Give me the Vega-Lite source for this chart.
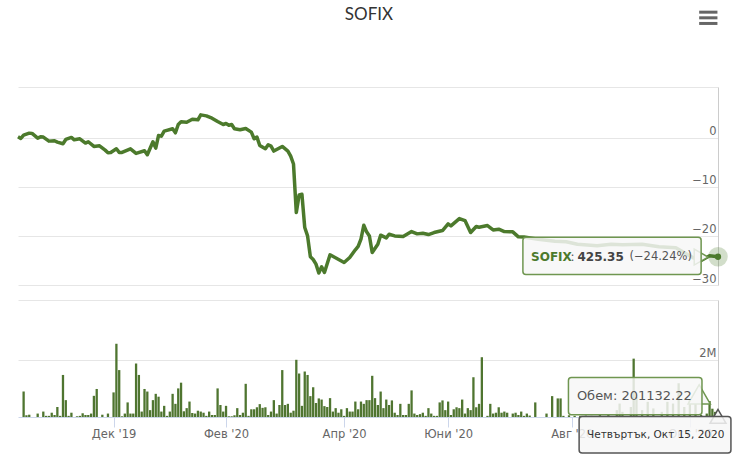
{
  "$schema": "https://vega.github.io/schema/vega-lite/v6.json",
  "title": {"text": "SOFIX", "font": "Lato", "fontSize": 17, "fontWeight": "normal", "color": "#333333", "anchor": "middle", "offset": -13, "dx": -5},
  "padding": {"left": 16, "top": 5, "right": 0, "bottom": 0},
  "background": "#ffffff",
  "spacing": 15,
  "bounds": "flush",
  "config": {
    "view": {"stroke": null},
    "font": "DejaVu Sans",
    "axis": {"labelFont": "DejaVu Sans", "labelColor": "#666666", "labelFontSize": 11.5, "title": null}
  },
  "datasets": {
    "index": [
      {"n":0,"change":0.2},{"n":1,"change":-0.14},{"n":2,"change":0.54},{"n":4,"change":0.95},{"n":5,"change":0.88},{"n":7,"change":-0.07},{"n":8,"change":0.2},{"n":9,"change":0.14},{"n":11,"change":-0.68},{"n":13,"change":-0.61},{"n":14,"change":-0.88},{"n":16,"change":-1.22},{"n":17,"change":-0.34},{"n":19,"change":0.07},{"n":20,"change":-0.41},{"n":22,"change":-0.2},{"n":24,"change":-1.08},{"n":25,"change":-0.81},{"n":27,"change":-1.76},{"n":29,"change":-1.63},{"n":31,"change":-2.51},{"n":32,"change":-3.05},{"n":33,"change":-2.98},{"n":35,"change":-2.24},{"n":36,"change":-2.98},{"n":37,"change":-2.98},{"n":40,"change":-2.24},{"n":42,"change":-3.18},{"n":45,"change":-2.64},{"n":46,"change":-3.46},{"n":48,"change":-0.81},{"n":49,"change":-2.1},{"n":50,"change":0.47},{"n":51,"change":0.34},{"n":52,"change":1.36},{"n":55,"change":1.83},{"n":56,"change":1.02},{"n":57,"change":2.71},{"n":58,"change":3.25},{"n":60,"change":3.18},{"n":62,"change":3.79},{"n":64,"change":3.66},{"n":65,"change":4.67},{"n":67,"change":4.47},{"n":69,"change":4.0},{"n":71,"change":3.32},{"n":73,"change":2.71},{"n":74,"change":2.91},{"n":75,"change":2.57},{"n":76,"change":2.71},{"n":77,"change":1.83},{"n":79,"change":1.63},{"n":81,"change":1.9},{"n":83,"change":1.15},{"n":84,"change":-0.2},{"n":85,"change":0.14},{"n":86,"change":-1.56},{"n":88,"change":-2.24},{"n":89,"change":-1.42},{"n":90,"change":-1.69},{"n":91,"change":-2.71},{"n":94,"change":-1.76},{"n":96,"change":-2.71},{"n":97,"change":-3.73},{"n":98,"change":-5.35},{"n":99,"change":-15.24},{"n":100,"change":-11.65},{"n":101,"change":-11.52},{"n":102,"change":-18.29},{"n":103,"change":-19.99},{"n":104,"change":-24.25},{"n":105,"change":-24.8},{"n":106,"change":-25.75},{"n":107,"change":-27.57},{"n":108,"change":-26.29},{"n":109,"change":-27.44},{"n":111,"change":-23.85},{"n":116,"change":-25.41},{"n":118,"change":-24.39},{"n":120,"change":-22.83},{"n":121,"change":-22.15},{"n":122,"change":-20.66},{"n":123,"change":-17.82},{"n":124,"change":-19.17},{"n":125,"change":-20},{"n":126,"change":-23.37},{"n":128,"change":-21.68},{"n":129,"change":-19.85},{"n":131,"change":-20.39},{"n":132,"change":-19.65},{"n":134,"change":-19.99},{"n":137,"change":-20.12},{"n":140,"change":-19.11},{"n":142,"change":-19.58},{"n":144,"change":-19.44},{"n":146,"change":-19.72},{"n":148,"change":-19.31},{"n":151,"change":-18.9},{"n":153,"change":-17.55},{"n":154,"change":-17.95},{"n":157,"change":-16.46},{"n":159,"change":-16.87},{"n":161,"change":-19.31},{"n":163,"change":-18.09},{"n":164,"change":-18.22},{"n":167,"change":-17.89},{"n":169,"change":-18.77},{"n":171,"change":-18.63},{"n":173,"change":-19.11},{"n":176,"change":-19.17},{"n":178,"change":-20.19},{"n":180,"change":-20.2},{"n":185,"change":-20.67},{"n":191,"change":-21.1},{"n":195,"change":-21.2},{"n":199,"change":-21.7},{"n":206,"change":-22},{"n":211,"change":-21.7},{"n":215,"change":-21.8},{"n":222,"change":-21.7},{"n":228,"change":-22.2},{"n":234,"change":-22.4},{"n":240,"change":-24.4},{"n":243,"change":-25},{"n":246,"change":-24.05},{"n":249,"change":-24.24}
    ],
    "volume": [
      {"n":2,"volume":890000},{"n":3,"volume":60000},{"n":4,"volume":80000},{"n":7,"volume":120000},{"n":9,"volume":190000},{"n":10,"volume":40000},{"n":11,"volume":40000},{"n":12,"volume":150000},{"n":13,"volume":70000},{"n":14,"volume":350000},{"n":15,"volume":40000},{"n":16,"volume":1470000},{"n":17,"volume":590000},{"n":18,"volume":40000},{"n":19,"volume":150000},{"n":21,"volume":25000},{"n":22,"volume":40000},{"n":23,"volume":130000},{"n":24,"volume":70000},{"n":25,"volume":70000},{"n":26,"volume":120000},{"n":27,"volume":740000},{"n":28,"volume":980000},{"n":30,"volume":80000},{"n":32,"volume":120000},{"n":34,"volume":860000},{"n":35,"volume":2560000},{"n":36,"volume":1640000},{"n":37,"volume":25000},{"n":38,"volume":120000},{"n":39,"volume":510000},{"n":40,"volume":120000},{"n":41,"volume":120000},{"n":42,"volume":1870000},{"n":43,"volume":1470000},{"n":44,"volume":190000},{"n":45,"volume":980000},{"n":46,"volume":890000},{"n":47,"volume":240000},{"n":48,"volume":590000},{"n":49,"volume":810000},{"n":50,"volume":710000},{"n":51,"volume":190000},{"n":52,"volume":390000},{"n":53,"volume":40000},{"n":54,"volume":190000},{"n":55,"volume":810000},{"n":56,"volume":460000},{"n":57,"volume":1000000},{"n":58,"volume":1200000},{"n":59,"volume":200000},{"n":60,"volume":310000},{"n":61,"volume":540000},{"n":62,"volume":140000},{"n":63,"volume":120000},{"n":64,"volume":220000},{"n":65,"volume":190000},{"n":66,"volume":150000},{"n":67,"volume":40000},{"n":68,"volume":190000},{"n":69,"volume":70000},{"n":70,"volume":70000},{"n":71,"volume":1000000},{"n":72,"volume":420000},{"n":73,"volume":190000},{"n":74,"volume":390000},{"n":75,"volume":25000},{"n":76,"volume":25000},{"n":77,"volume":60000},{"n":78,"volume":310000},{"n":79,"volume":70000},{"n":80,"volume":150000},{"n":81,"volume":1160000},{"n":82,"volume":40000},{"n":83,"volume":270000},{"n":84,"volume":270000},{"n":85,"volume":340000},{"n":86,"volume":450000},{"n":87,"volume":320000},{"n":88,"volume":340000},{"n":89,"volume":70000},{"n":90,"volume":190000},{"n":91,"volume":590000},{"n":92,"volume":120000},{"n":93,"volume":420000},{"n":94,"volume":1640000},{"n":95,"volume":420000},{"n":96,"volume":460000},{"n":97,"volume":150000},{"n":98,"volume":220000},{"n":99,"volume":2000000},{"n":100,"volume":1520000},{"n":101,"volume":390000},{"n":102,"volume":1590000},{"n":103,"volume":1470000},{"n":104,"volume":730000},{"n":105,"volume":1040000},{"n":106,"volume":490000},{"n":107,"volume":650000},{"n":108,"volume":610000},{"n":109,"volume":380000},{"n":110,"volume":350000},{"n":111,"volume":660000},{"n":112,"volume":190000},{"n":113,"volume":310000},{"n":114,"volume":150000},{"n":115,"volume":270000},{"n":116,"volume":40000},{"n":117,"volume":310000},{"n":118,"volume":190000},{"n":119,"volume":190000},{"n":120,"volume":540000},{"n":121,"volume":270000},{"n":122,"volume":540000},{"n":123,"volume":460000},{"n":124,"volume":590000},{"n":125,"volume":590000},{"n":126,"volume":1440000},{"n":127,"volume":660000},{"n":128,"volume":420000},{"n":129,"volume":890000},{"n":130,"volume":310000},{"n":131,"volume":610000},{"n":132,"volume":420000},{"n":133,"volume":580000},{"n":134,"volume":150000},{"n":135,"volume":70000},{"n":136,"volume":460000},{"n":137,"volume":70000},{"n":138,"volume":70000},{"n":139,"volume":460000},{"n":140,"volume":930000},{"n":141,"volume":120000},{"n":142,"volume":70000},{"n":143,"volume":100000},{"n":144,"volume":150000},{"n":145,"volume":40000},{"n":146,"volume":310000},{"n":147,"volume":120000},{"n":148,"volume":40000},{"n":149,"volume":40000},{"n":150,"volume":510000},{"n":151,"volume":580000},{"n":152,"volume":240000},{"n":153,"volume":540000},{"n":154,"volume":70000},{"n":155,"volume":270000},{"n":156,"volume":340000},{"n":157,"volume":310000},{"n":158,"volume":610000},{"n":159,"volume":120000},{"n":160,"volume":310000},{"n":161,"volume":240000},{"n":162,"volume":1390000},{"n":163,"volume":340000},{"n":164,"volume":460000},{"n":165,"volume":2090000},{"n":167,"volume":40000},{"n":168,"volume":460000},{"n":169,"volume":120000},{"n":170,"volume":150000},{"n":171,"volume":340000},{"n":172,"volume":150000},{"n":173,"volume":190000},{"n":174,"volume":150000},{"n":176,"volume":120000},{"n":177,"volume":150000},{"n":178,"volume":70000},{"n":179,"volume":190000},{"n":180,"volume":40000},{"n":181,"volume":120000},{"n":182,"volume":50000},{"n":184,"volume":510000},{"n":188,"volume":120000},{"n":190,"volume":730000},{"n":192,"volume":650000},{"n":193,"volume":650000},{"n":194,"volume":40000},{"n":196,"volume":60000},{"n":198,"volume":40000},{"n":200,"volume":40000},{"n":202,"volume":50000},{"n":204,"volume":40000},{"n":207,"volume":70000},{"n":210,"volume":90000},{"n":213,"volume":240000},{"n":214,"volume":470000},{"n":215,"volume":180000},{"n":218,"volume":350000},{"n":219,"volume":2040000},{"n":220,"volume":700000},{"n":222,"volume":240000},{"n":224,"volume":530000},{"n":226,"volume":300000},{"n":229,"volume":180000},{"n":231,"volume":530000},{"n":233,"volume":470000},{"n":235,"volume":1180000},{"n":237,"volume":350000},{"n":239,"volume":590000},{"n":241,"volume":530000},{"n":243,"volume":70000},{"n":245,"volume":120000},{"n":246,"volume":560000},{"n":247,"volume":290000},{"n":248,"volume":180000},{"n":249,"volume":201132.22}
    ]
  },
  "vconcat": [
    {
      "width": 700,
      "height": 198,
      "layer": [
        {
          "data": {"name": "index"},
          "mark": {"type": "line", "color": "#4c7a2c", "strokeWidth": 3.5, "strokeJoin": "round"},
          "encoding": {
            "x": {"field": "n", "type": "quantitative", "scale": {"domain": [0, 249], "nice": false, "zero": false}, "axis": null},
            "y": {
              "field": "change",
              "type": "quantitative",
              "scale": {"domain": [-30, 10.35], "nice": false, "zero": false},
              "axis": {
                "orient": "right",
                "values": [-30, -20, -10, 0, 10.35],
                "labelExpr": "datum.value > 10 ? '' : replace(format(datum.value, 'd'), '-', '\u2212')",
                "grid": true,
                "gridColor": "#e6e6e6",
                "domainColor": "#cccccc",
                "ticks": false,
                "tickSize": 0,
                "labelAlign": "right",
                "labelBaseline": "bottom",
                "labelPadding": -2,
                "labelOffset": -1,
                "labelFlush": false,
                "labelOverlap": false
              }
            }
          }
        },
        {
          "data": {"values": [{"n": 249, "change": -24.24}]},
          "mark": {"type": "point", "filled": true, "color": "#4c7a2c", "opacity": 0.25, "size": 380},
          "encoding": {"x": {"field": "n", "type": "quantitative"}, "y": {"field": "change", "type": "quantitative"}}
        },
        {
          "data": {"values": [{"n": 249, "change": -24.24}]},
          "mark": {"type": "point", "filled": true, "color": "#4c7a2c", "opacity": 1, "size": 40},
          "encoding": {"x": {"field": "n", "type": "quantitative"}, "y": {"field": "change", "type": "quantitative"}}
        },
        {
          "data": {"values": [{}]},
          "mark": {"type": "point", "shape": "triangle-right", "filled": true, "fill": "#f7f7f7", "stroke": "#6f9650", "strokeWidth": 1.5, "opacity": 1, "size": 256},
          "encoding": {"x": {"datum": 243}, "y": {"datum": -24.3}}
        },
        {
          "data": {"values": [{}]},
          "mark": {"type": "rect", "fill": "#f7f7f7", "fillOpacity": 0.85, "stroke": "#6f9650", "strokeWidth": 1.5, "cornerRadius": 3},
          "encoding": {"x": {"datum": 179.6}, "x2": {"datum": 243}, "y": {"datum": -20.26}, "y2": {"datum": -27.85}}
        },
        {
          "data": {"values": [{}]},
          "mark": {"type": "text", "text": "SOFIX", "align": "left", "baseline": "middle", "fontSize": 12, "fontWeight": "bold", "color": "#4c7a2c"},
          "encoding": {"x": {"datum": 182.5}, "y": {"datum": -24.2}}
        },
        {
          "data": {"values": [{}]},
          "mark": {"type": "text", "text": ":", "align": "left", "baseline": "middle", "fontSize": 12, "color": "#555555"},
          "encoding": {"x": {"datum": 196.5}, "y": {"datum": -24.2}}
        },
        {
          "data": {"values": [{}]},
          "mark": {"type": "text", "text": "425.35", "align": "left", "baseline": "middle", "fontSize": 12, "fontWeight": "bold", "color": "#444444"},
          "encoding": {"x": {"datum": 199}, "y": {"datum": -24.2}}
        },
        {
          "data": {"values": [{}]},
          "mark": {"type": "text", "text": "(\u221224.24%)", "align": "left", "baseline": "middle", "fontSize": 11.5, "color": "#555555"},
          "encoding": {"x": {"datum": 217.5}, "y": {"datum": -24.2}}
        },
        {
          "data": {"values": [{}]},
          "mark": {"type": "rule", "color": "#666666", "strokeWidth": 3},
          "encoding": {"x": {"datum": 242.3}, "x2": {"datum": 248.8}, "y": {"datum": 25.6}}
        },
        {
          "data": {"values": [{}]},
          "mark": {"type": "rule", "color": "#666666", "strokeWidth": 3},
          "encoding": {"x": {"datum": 242.3}, "x2": {"datum": 248.8}, "y": {"datum": 24.45}}
        },
        {
          "data": {"values": [{}]},
          "mark": {"type": "rule", "color": "#666666", "strokeWidth": 3},
          "encoding": {"x": {"datum": 242.3}, "x2": {"datum": 248.8}, "y": {"datum": 23.3}}
        }
      ]
    },
    {
      "width": 700,
      "height": 117,
      "layer": [
        {
          "data": {"name": "volume"},
          "mark": {"type": "bar", "color": "#4f7530", "width": 2.3},
          "encoding": {
            "x": {
              "field": "n",
              "type": "quantitative",
              "scale": {"domain": [0, 249], "nice": false, "zero": false, "padding": 0},
              "axis": {
                "values": [34, 74, 116, 153, 197, 239],
                "labelExpr": "{34: 'Дек \\'19', 74: 'Фев \\'20', 116: 'Апр \\'20', 153: 'Юни \\'20', 197: 'Авг \\'20', 239: 'Окт \\'20'}[datum.value]",
                "grid": false,
                "domainColor": "#ccd6eb",
                "tickColor": "#ccd6eb",
                "tickSize": 10,
                "labelPadding": 1,
                "labelFlush": false,
                "labelOverlap": false
              }
            },
            "y": {
              "field": "volume",
              "type": "quantitative",
              "scale": {"domain": [0, 4090000], "nice": false},
              "axis": {
                "orient": "right",
                "values": [2000000, 4090000],
                "labelExpr": "datum.value > 3000000 ? '' : '2M'",
                "grid": true,
                "gridColor": "#e6e6e6",
                "domainColor": "#cccccc",
                "ticks": false,
                "tickSize": 0,
                "labelAlign": "right",
                "labelBaseline": "bottom",
                "labelPadding": -2,
                "labelOffset": -1,
                "labelFlush": false,
                "labelOverlap": false
              }
            }
          }
        },
        {
          "data": {"values": [{}]},
          "mark": {"type": "point", "shape": "triangle-right", "filled": true, "fill": "#f7f7f7", "stroke": "#6f9650", "strokeWidth": 1.5, "opacity": 1, "size": 500, "angle": 30},
          "encoding": {"x": {"datum": 243.3}, "y": {"datum": 620000}}
        },
        {
          "data": {"values": [{}]},
          "mark": {"type": "rect", "fill": "#f7f7f7", "fillOpacity": 0.85, "stroke": "#6f9650", "strokeWidth": 1.5, "cornerRadius": 3},
          "encoding": {"x": {"datum": 195.8}, "x2": {"datum": 243.3}, "y": {"datum": 1384000}, "y2": {"datum": 80000}}
        },
        {
          "data": {"values": [{}]},
          "mark": {"type": "text", "text": "Обем: 201132.22", "align": "left", "baseline": "middle", "fontSize": 13, "color": "#555555"},
          "encoding": {"x": {"datum": 198.8}, "y": {"datum": 747000}}
        },
        {
          "data": {"values": [{}]},
          "mark": {"type": "point", "shape": "triangle-up", "filled": true, "fill": "#f7f7f7", "stroke": "#555555", "strokeWidth": 1.5, "opacity": 1, "size": 256},
          "encoding": {"x": {"datum": 249}, "y": {"datum": 21000}}
        },
        {
          "data": {"values": [{}]},
          "mark": {"type": "rect", "fill": "#f7f7f7", "fillOpacity": 0.85, "stroke": "#555555", "strokeWidth": 1.5, "cornerRadius": 3},
          "encoding": {"x": {"datum": 199.6}, "x2": {"datum": 253.6}, "y": {"datum": 21000}, "y2": {"datum": -1258000}}
        },
        {
          "data": {"values": [{}]},
          "mark": {"type": "text", "text": "Четвъртък, Окт 15, 2020", "align": "left", "baseline": "middle", "fontSize": 10.5, "color": "#333333"},
          "encoding": {"x": {"datum": 202.4}, "y": {"datum": -640000}}
        }
      ]
    }
  ]
}
